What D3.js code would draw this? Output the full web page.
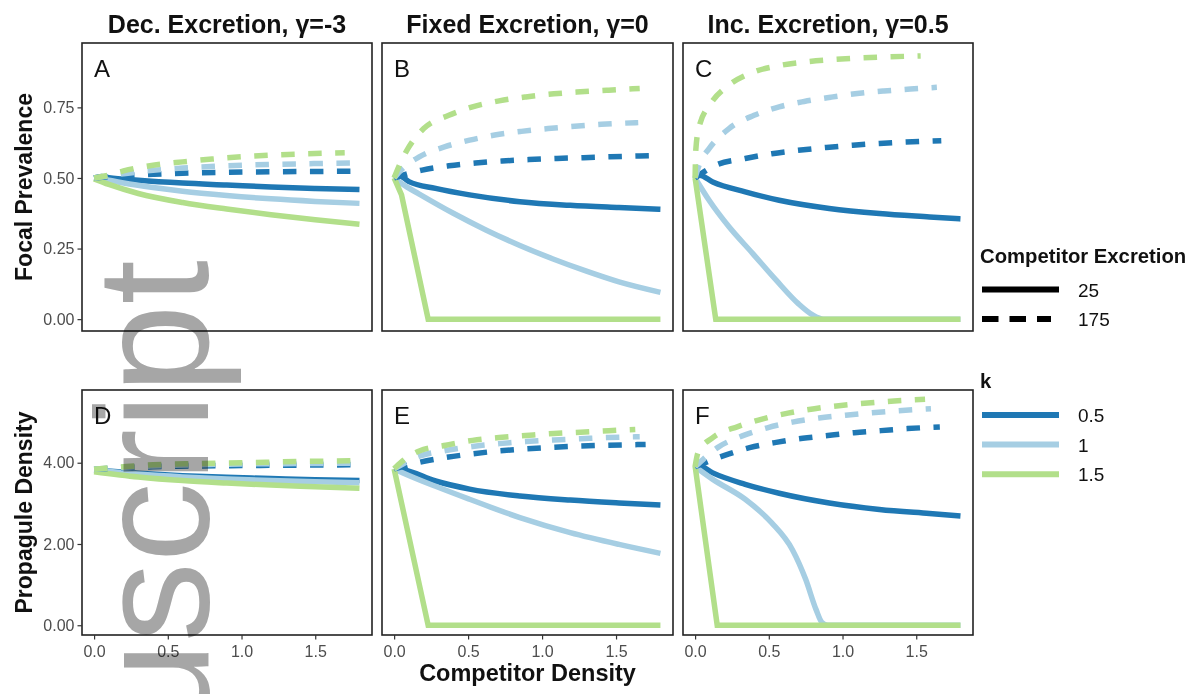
<!DOCTYPE html>
<html><head><meta charset="utf-8">
<script src="https://cdn.jsdelivr.net/npm/d3@7"></script>
<style>body{margin:0;background:#fff;} svg{display:block;font-family:"Liberation Sans",Arial,sans-serif;}</style>
</head><body>
<svg id="c" width="1195" height="694"></svg>
<script>
// ---------- data ----------
const panelTitles = ["Dec. Excretion, γ=-3", "Fixed Excretion, γ=0", "Inc. Excretion, γ=0.5"];
const panelLetters = ["A","B","C","D","E","F"];
const rowTitles = ["Focal Prevalence", "Propagule Density"];
const xTitle = "Competitor Density";
const xTicks = [0, 0.5, 1.0, 1.5];
const yTicksTop = [0, 0.25, 0.5, 0.75];
const yTicksBottom = [0, 2, 4];
const kLevels = ["0.5", "1", "1.5"];
const kColors = ["#1f78b4", "#a6cee3", "#b2df8a"];
const excretionLevels = ["25", "175"];

// Panel A (Focal prevalence, γ=-3)
const A_s05 = [[0,0.5],[0.05,0.505],[0.1,0.501],[0.3,0.492],[0.6,0.482],[0.9,0.475],[1.2,0.468],[1.5,0.463],[1.8,0.459]];
const A_s1  = [[0,0.5],[0.1,0.492],[0.2,0.482],[0.4,0.466],[0.6,0.453],[0.9,0.438],[1.2,0.426],[1.5,0.417],[1.8,0.41]];
const A_s15 = [[0,0.497],[0.1,0.477],[0.3,0.445],[0.6,0.413],[0.9,0.39],[1.2,0.37],[1.5,0.352],[1.8,0.336]];
const A_d05 = [[0,0.5],[0.2,0.508],[0.4,0.513],[0.6,0.517],[0.9,0.52],[1.2,0.522],[1.5,0.523],[1.8,0.524]];
const A_d1  = [[0,0.5],[0.2,0.515],[0.4,0.527],[0.6,0.535],[0.9,0.543],[1.2,0.548],[1.5,0.551],[1.75,0.553]];
const A_d15 = [[0,0.5],[0.1,0.51],[0.2,0.525],[0.4,0.545],[0.6,0.557],[0.8,0.567],[1.0,0.575],[1.2,0.581],[1.4,0.585],[1.7,0.589]];
// Panel B (γ=0)
const B_s05 = [[0,0.5],[0.03,0.51],[0.1,0.487],[0.28,0.463],[0.51,0.44],[0.85,0.416],[1.19,0.403],[1.52,0.395],[1.8,0.389]];
const B_s1  = [[0,0.5],[0.05,0.48],[0.17,0.443],[0.4,0.375],[0.62,0.316],[0.85,0.261],[1.07,0.214],[1.3,0.17],[1.52,0.132],[1.8,0.095]];
const B_s15 = [[0,0.5],[0.05,0.44],[0.23,0],[1.8,0]];
const B_d05 = [[0,0.5],[0.19,0.528],[0.37,0.543],[0.55,0.553],[0.73,0.56],[0.91,0.565],[1.1,0.569],[1.28,0.572],[1.46,0.575],[1.73,0.579]];
const B_d1  = [[0,0.5],[0.05,0.53],[0.17,0.575],[0.34,0.61],[0.51,0.634],[0.68,0.652],[0.86,0.665],[1.04,0.675],[1.22,0.683],[1.4,0.69],[1.65,0.696]];
const B_d15 = [[0,0.5],[0.04,0.55],[0.1,0.61],[0.2,0.675],[0.37,0.722],[0.53,0.752],[0.71,0.773],[0.89,0.787],[1.08,0.798],[1.26,0.805],[1.45,0.811],[1.66,0.817]];
// Panel C (γ=0.5)
const C_s05 = [[0,0.5],[0.03,0.51],[0.12,0.486],[0.34,0.451],[0.57,0.421],[0.91,0.392],[1.25,0.374],[1.59,0.362],[1.8,0.355]];
const C_s1  = [[0,0.5],[0.095,0.421],[0.23,0.327],[0.39,0.233],[0.55,0.138],[0.7,0.055],[0.8,0.014],[0.87,0],[1.8,0]];
const C_s15 = [[0,0.5],[0.14,0],[1.8,0]];
const C_d05 = [[0,0.5],[0.14,0.545],[0.34,0.569],[0.52,0.586],[0.7,0.598],[0.89,0.608],[1.07,0.616],[1.25,0.622],[1.43,0.627],[1.67,0.632]];
const C_d1  = [[0,0.5],[0.03,0.55],[0.095,0.604],[0.23,0.675],[0.4,0.722],[0.57,0.752],[0.74,0.771],[0.92,0.786],[1.1,0.799],[1.28,0.808],[1.46,0.815],[1.64,0.821]];
const C_d15 = [[0,0.5],[0.005,0.6],[0.027,0.681],[0.107,0.764],[0.23,0.829],[0.39,0.874],[0.57,0.898],[0.75,0.911],[0.93,0.919],[1.12,0.925],[1.31,0.929],[1.53,0.932]];
// Panel D (Propagule density, γ=-3)
const D_s05 = [[0,3.82],[0.3,3.74],[0.6,3.68],[0.9,3.64],[1.2,3.61],[1.5,3.58],[1.8,3.56]];
const D_s1  = [[0,3.82],[0.3,3.72],[0.6,3.65],[0.9,3.6],[1.2,3.56],[1.5,3.53],[1.8,3.51]];
const D_s15 = [[0,3.78],[0.3,3.65],[0.6,3.56],[0.9,3.5],[1.2,3.45],[1.5,3.41],[1.8,3.37]];
const D_d05 = [[0,3.84],[0.2,3.88],[0.4,3.9],[0.7,3.92],[1.0,3.93],[1.4,3.94],[1.8,3.95]];
const D_d1  = [[0,3.84],[0.2,3.89],[0.4,3.92],[0.7,3.95],[1.0,3.97],[1.4,3.98],[1.8,3.99]];
const D_d15 = [[0,3.84],[0.2,3.9],[0.4,3.95],[0.7,3.98],[1.0,4.0],[1.4,4.03],[1.75,4.05]];
// Panel E (γ=0)
const E_s05 = [[0,3.85],[0.06,3.83],[0.28,3.55],[0.51,3.35],[0.85,3.18],[1.19,3.08],[1.52,3.01],[1.8,2.96]];
const E_s1  = [[0,3.85],[0.06,3.75],[0.28,3.42],[0.51,3.1],[0.85,2.65],[1.19,2.28],[1.52,1.99],[1.8,1.77]];
const E_s15 = [[0,3.85],[0.23,0],[1.8,0]];
const E_d05 = [[0,3.85],[0.17,4.01],[0.35,4.13],[0.53,4.22],[0.71,4.29],[0.89,4.34],[1.08,4.38],[1.26,4.41],[1.45,4.43],[1.7,4.45]];
const E_d1  = [[0,3.85],[0.17,4.16],[0.35,4.3],[0.53,4.4],[0.71,4.47],[0.89,4.52],[1.08,4.56],[1.26,4.59],[1.45,4.62],[1.66,4.64]];
const E_d15 = [[0,3.85],[0.05,4.02],[0.17,4.29],[0.35,4.43],[0.53,4.55],[0.71,4.62],[0.89,4.67],[1.08,4.72],[1.26,4.75],[1.45,4.79],[1.63,4.82]];
// Panel F (γ=0.5)
const F_s05 = [[0,3.9],[0.03,3.92],[0.12,3.75],[0.34,3.47],[0.57,3.25],[0.91,3.01],[1.25,2.85],[1.59,2.75],[1.8,2.69]];
const F_s1  = [[0,3.9],[0.12,3.59],[0.34,3.1],[0.52,2.52],[0.66,1.86],[0.75,1.13],[0.82,0.39],[0.86,0.07],[0.9,0],[1.8,0]];
const F_s15 = [[0,3.92],[0.15,0],[1.8,0]];
const F_d05 = [[0,3.9],[0.2,4.18],[0.37,4.37],[0.55,4.5],[0.73,4.6],[0.9,4.67],[1.08,4.74],[1.26,4.79],[1.44,4.84],[1.66,4.88]];
const F_d1  = [[0,3.9],[0.16,4.39],[0.32,4.66],[0.49,4.86],[0.66,5.0],[0.84,5.1],[1.02,5.17],[1.2,5.23],[1.38,5.28],[1.6,5.33]];
const F_d15 = [[0,3.9],[0.02,4.25],[0.12,4.62],[0.29,4.89],[0.46,5.08],[0.63,5.22],[0.81,5.33],[0.99,5.41],[1.17,5.47],[1.35,5.52],[1.56,5.56]];

const panelSeries = [
  {solid:[A_s05,A_s1,A_s15], dashed:[A_d05,A_d1,A_d15], kinked:[]},
  {solid:[B_s05,B_s1,B_s15], dashed:[B_d05,B_d1,B_d15], kinked:[2]},
  {solid:[C_s05,C_s1,C_s15], dashed:[C_d05,C_d1,C_d15], kinked:[2]},
  {solid:[D_s05,D_s1,D_s15], dashed:[D_d05,D_d1,D_d15], kinked:[]},
  {solid:[E_s05,E_s1,E_s15], dashed:[E_d05,E_d1,E_d15], kinked:[2]},
  {solid:[F_s05,F_s1,F_s15], dashed:[F_d05,F_d1,F_d15], kinked:[2]}
];

// ---------- layout ----------
const svg = d3.select("#c");
const FONT = '"Liberation Sans", Arial, sans-serif';
const cols = [[82,372],[382,673],[683,973]];
const rows = [[43,331],[390,635]];
const yDomains = [[-0.042,0.978],[-0.24,5.79]];
const LW = 5.5;

svg.append("rect").attr("width",1195).attr("height",694).attr("fill","#fff");

panelSeries.forEach((ps, i) => {
  const r = Math.floor(i/3), c = i%3;
  const [x0,x1] = cols[c], [y0,y1] = rows[r];
  const x = d3.scaleLinear().domain([-0.082,1.885]).range([x0,x1]);
  const y = d3.scaleLinear().domain(yDomains[r]).range([y1,y0]);
  const g = svg.append("g");
  const clipId = "clip"+i;
  svg.append("clipPath").attr("id",clipId).append("rect")
    .attr("x",x0).attr("y",y0).attr("width",x1-x0).attr("height",y1-y0);
  const lines = g.append("g").attr("clip-path",`url(#${clipId})`);
  const smooth = d3.line().x(d=>x(d[0])).y(d=>y(d[1])).curve(d3.curveMonotoneX);
  const straight = d3.line().x(d=>x(d[0])).y(d=>y(d[1])).curve(d3.curveLinear);
  ps.solid.forEach((s,k) => {
    lines.append("path").attr("d",(ps.kinked.includes(k)?straight:smooth)(s))
      .attr("fill","none").attr("stroke",kColors[k]).attr("stroke-width",LW);
  });
  ps.dashed.forEach((s,k) => {
    lines.append("path").attr("d",smooth(s))
      .attr("fill","none").attr("stroke",kColors[k]).attr("stroke-width",LW)
      .attr("stroke-dasharray","13.5,13.5");
  });
  g.append("rect").attr("x",x0).attr("y",y0).attr("width",x1-x0).attr("height",y1-y0)
    .attr("fill","none").attr("stroke","#222").attr("stroke-width",1.6);
  g.append("text").attr("x",x0+12).attr("y",y0+34).text(panelLetters[i])
    .attr("font-size",24).attr("fill","#111").style("font-family",FONT);
  if (c === 0) {
    const ax = d3.axisLeft(y).tickValues(r===0?yTicksTop:yTicksBottom)
      .tickFormat(d3.format(".2f")).tickSize(4.5).tickPadding(3);
    const ag = svg.append("g").attr("transform",`translate(${x0},0)`).call(ax);
    ag.select(".domain").remove();
    ag.selectAll("line").attr("stroke","#333").attr("stroke-width",1.2);
    ag.selectAll("text").attr("font-size",16).attr("fill","#4d4d4d").style("font-family",FONT);
  }
  if (r === 1) {
    const ax = d3.axisBottom(x).tickValues(xTicks).tickFormat(d3.format(".1f")).tickSize(4.5).tickPadding(6);
    const ag = svg.append("g").attr("transform",`translate(0,${y1})`).call(ax);
    ag.select(".domain").remove();
    ag.selectAll("line").attr("stroke","#333").attr("stroke-width",1.2);
    ag.selectAll("text").attr("font-size",16).attr("fill","#4d4d4d").style("font-family",FONT);
  }
  if (r === 0) {
    svg.append("text").attr("x",(x0+x1)/2).attr("y",33).attr("text-anchor","middle")
      .attr("font-size",25).attr("font-weight","bold").attr("fill","#111").style("font-family",FONT)
      .text(panelTitles[c]);
  }
});

rowTitles.forEach((t,r) => {
  const cy = (rows[r][0]+rows[r][1])/2;
  svg.append("text").attr("transform",`translate(32,${cy}) rotate(-90)`).attr("text-anchor","middle")
    .attr("font-size",23).attr("font-weight","bold").attr("fill","#111").style("font-family",FONT).text(t);
});
svg.append("text").attr("x",(cols[1][0]+cols[1][1])/2).attr("y",681).attr("text-anchor","middle")
  .attr("font-size",23.5).attr("font-weight","bold").attr("fill","#111").style("font-family",FONT).text(xTitle);

const lg = svg.append("g").style("font-family",FONT);
lg.append("text").attr("x",980).attr("y",262.5).attr("font-size",20.3).attr("font-weight","bold").attr("fill","#111").text("Competitor Excretion");
const exY = [289.5, 319];
excretionLevels.forEach((lab,i) => {
  lg.append("line").attr("x1",982).attr("x2",i===0?1059:1051).attr("y1",exY[i]).attr("y2",exY[i])
    .attr("stroke","#000").attr("stroke-width",6).attr("stroke-dasharray",i===0?null:"16.5,11");
  lg.append("text").attr("x",1078).attr("y",exY[i]+7).attr("font-size",19).attr("fill","#111").text(lab);
});
lg.append("text").attr("x",980).attr("y",388).attr("font-size",20.3).attr("font-weight","bold").attr("fill","#111").text("k");
const kY = [415, 444.5, 474.3];
kLevels.forEach((lab,i) => {
  lg.append("line").attr("x1",982).attr("x2",1059).attr("y1",kY[i]).attr("y2",kY[i])
    .attr("stroke",kColors[i]).attr("stroke-width",6);
  lg.append("text").attr("x",1078).attr("y",kY[i]+7).attr("font-size",19).attr("fill","#111").text(lab);
});

// watermark (partially off-page, as in the reference)
svg.append("text").attr("transform","translate(208,260) rotate(-90)").attr("text-anchor","end")
  .attr("font-size",160).attr("fill","#a6a6a6").style("font-family",FONT).style("mix-blend-mode","multiply")
  .text("uscript");
</script>
</body></html>
